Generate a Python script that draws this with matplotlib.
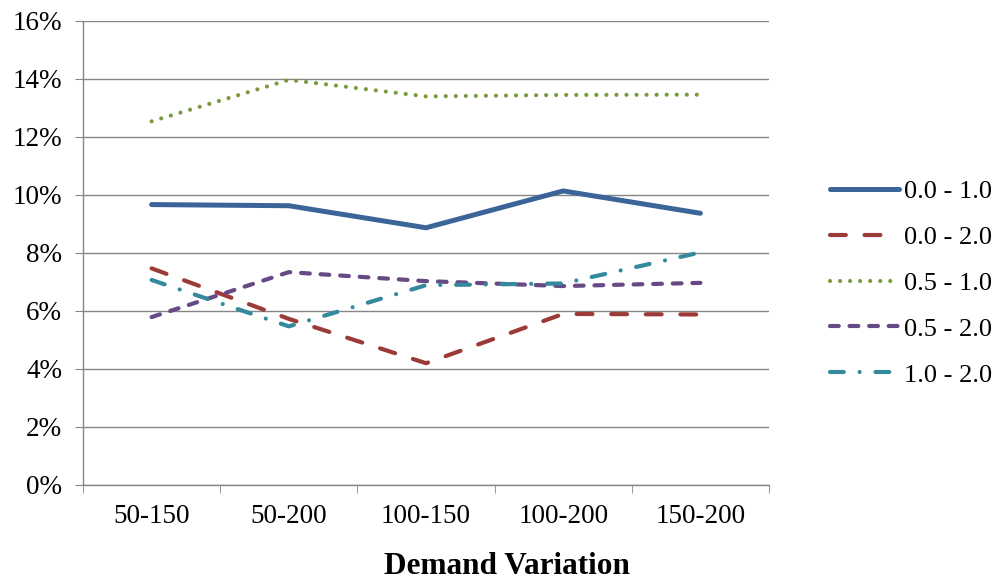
import numpy as np
import matplotlib
matplotlib.use("Agg")
import matplotlib.pyplot as plt
from matplotlib.ticker import FixedLocator, PercentFormatter

plt.rcParams["font.family"] = ["Liberation Serif", "DejaVu Serif"]

# ── Data ─────────────────────────────────────────────────────────────
categories = ["50-150", "50-200", "100-150", "100-200", "150-200"]
series_names = ["0.0 - 1.0", "0.0 - 2.0", "0.5 - 1.0", "0.5 - 2.0", "1.0 - 2.0"]
s_00_10 = [9.67, 9.63, 8.87, 10.14, 9.37]
s_00_20 = [7.47, 5.73, 4.20, 5.90, 5.88]
s_05_10 = [12.54, 13.97, 13.40, 13.45, 13.46]
s_05_20 = [5.79, 7.34, 7.03, 6.86, 6.97]
s_10_20 = [7.07, 5.47, 6.89, 6.95, 8.02]

# ── Styles ───────────────────────────────────────────────────────────
colors = ["#3B6599", "#9C3A37", "#7A9A3E", "#654A85", "#348A9C"]
dashes = ["-", (0, (3.8, 4.5)), (0, (0.01, 2.4)), (0, (2.1, 2.6)), (0, (3.3, 3.8, 0.01, 3.8))]
widths = [3.6, 3.0, 3.0, 3.0, 3.0]

fig = plt.figure(figsize=(9.99, 5.82), dpi=100)
ax = fig.add_axes([83 / 999, 97 / 582, 686 / 999, 464 / 582])

x = np.arange(len(categories))
for vals, name, c, ls, lw in zip([s_00_10, s_00_20, s_05_10, s_05_20, s_10_20],
                                 series_names, colors, dashes, widths):
    ax.plot(x, vals, color=c, linestyle=ls, linewidth=lw, label=name,
            dash_capstyle="round", solid_capstyle="round")

ax.set_xlim(-0.5, len(categories) - 0.5)
ax.set_ylim(0, 16)
ax.set_yticks(np.arange(0, 17, 2))
ax.yaxis.set_major_formatter(PercentFormatter(decimals=0))
ax.set_xticks(x)
ax.set_xticklabels(categories)
ax.xaxis.set_minor_locator(FixedLocator(np.arange(-0.5, len(categories), 1.0)))

ax.grid(axis="y", color="#868686", linewidth=1.0)
ax.set_axisbelow(True)
for side in ["top", "right"]:
    ax.spines[side].set_visible(False)
for side in ["left", "bottom"]:
    ax.spines[side].set_color("#868686")
    ax.spines[side].set_linewidth(1.0)

ax.tick_params(axis="y", labelsize=19.5, length=6, color="#868686", pad=9)
ax.tick_params(axis="x", which="major", labelsize=19.5, length=0, pad=14)
ax.tick_params(axis="x", which="minor", length=6, color="#868686")

fig.text(507 / 999, 1 - 566 / 582, "Demand Variation", fontsize=22.5,
         fontweight="bold", ha="center", va="center")

ax.legend(loc="center left", bbox_to_anchor=(830 / 999, 1 - 283 / 582),
          bbox_transform=fig.transFigure, frameon=False, borderpad=0,
          borderaxespad=0, fontsize=19, handlelength=2.6,
          handletextpad=0.2, labelspacing=0.85)

fig.savefig("out.png", dpi=100)
